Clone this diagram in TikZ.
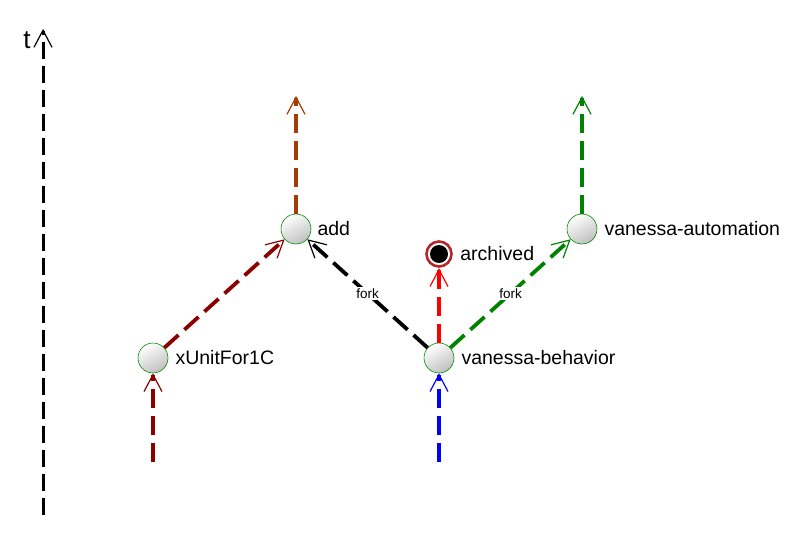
\documentclass[tikz,border=0pt]{standalone}
\usepackage{fontspec}
\setmainfont{Liberation Sans}
\usetikzlibrary{arrows.meta}
\definecolor{xunitred}{RGB}{140,0,0}
\definecolor{addbrown}{RGB}{165,60,5}
\definecolor{autogreen}{RGB}{0,130,0}
\definecolor{ringred}{RGB}{180,40,40}
\tikzset{
  commit/.style={circle,minimum size=30pt,inner sep=0pt,draw=green!55!black,line width=0.6pt,
    top color=white,bottom color=black!25,shading angle=30},
  commitname/.style={font=\fontsize{19.5}{22}\selectfont,anchor=west,inner sep=0pt},
  branch/.style={line width=3.8pt,dash pattern=on 19pt off 8pt,
    -{Straight Barb[length=17pt,width=18pt,line width=1.2pt,sep=0pt]}},
  forklabel/.style={font=\fontsize{13.5}{15}\selectfont,text=black,fill=white,inner sep=1.5pt}
}
\begin{document}
\begin{tikzpicture}[x=1pt,y=-1pt]
  \useasboundingbox (0,0) rectangle (801,538);
  \draw
    (153,358) node[commit] (xunit){}
    (296,229) node[commit] (add){}
    (439,358) node[commit] (behavior){}
    (582,229) node[commit] (automation){};
  \fill[white,draw=ringred,line width=2.6pt] (439,254) circle (12.5pt);
  \fill (439,254) circle (9pt);
  \node[circle,minimum size=28pt,inner sep=0pt] (archived) at (439,254) {};
  \node[commitname] at (xunit.east) [xshift=7pt] (xunitname) {xUnitFor1C};
  \node[commitname] at (add.east) [xshift=6pt] (addname) {add};
  \node[commitname] at (archived.east) [xshift=7pt] (archivedname) {archived};
  \node[commitname] at (behavior.east) [xshift=7pt] (behaviorname) {vanessa-behavior};
  \node[commitname] at (automation.east) [xshift=7pt] (automationname) {vanessa-automation};
  \node[font=\fontsize{26}{28}\selectfont] (tname) at (27,40) {t};
  \coordinate (tstart) at (43,515);
  \coordinate (tend) at (43,29);
  \coordinate (xunitstart) at (153,462);
  \coordinate (behaviorstart) at (439,462);
  \coordinate (addend) at (296,96);
  \coordinate (automationend) at (582,96);
  \begin{scope}[branch]
    \draw[line width=3pt,dash pattern=on 17pt off 7pt] (tstart) to (tend);
    \draw[xunitred] (xunitstart) to (xunit);
    \draw[xunitred] (xunit) to (add);
    \draw[addbrown] (add) to (addend);
    \draw[blue] (behaviorstart) to (behavior);
    \draw[black] (behavior) to node[forklabel] (fork1){fork} (add);
    \draw[red] (behavior) to (archived);
    \draw[autogreen] (behavior) to node[forklabel] (fork2){fork} (automation);
    \draw[autogreen] (automation) to (automationend);
  \end{scope}
\end{tikzpicture}
\end{document}
